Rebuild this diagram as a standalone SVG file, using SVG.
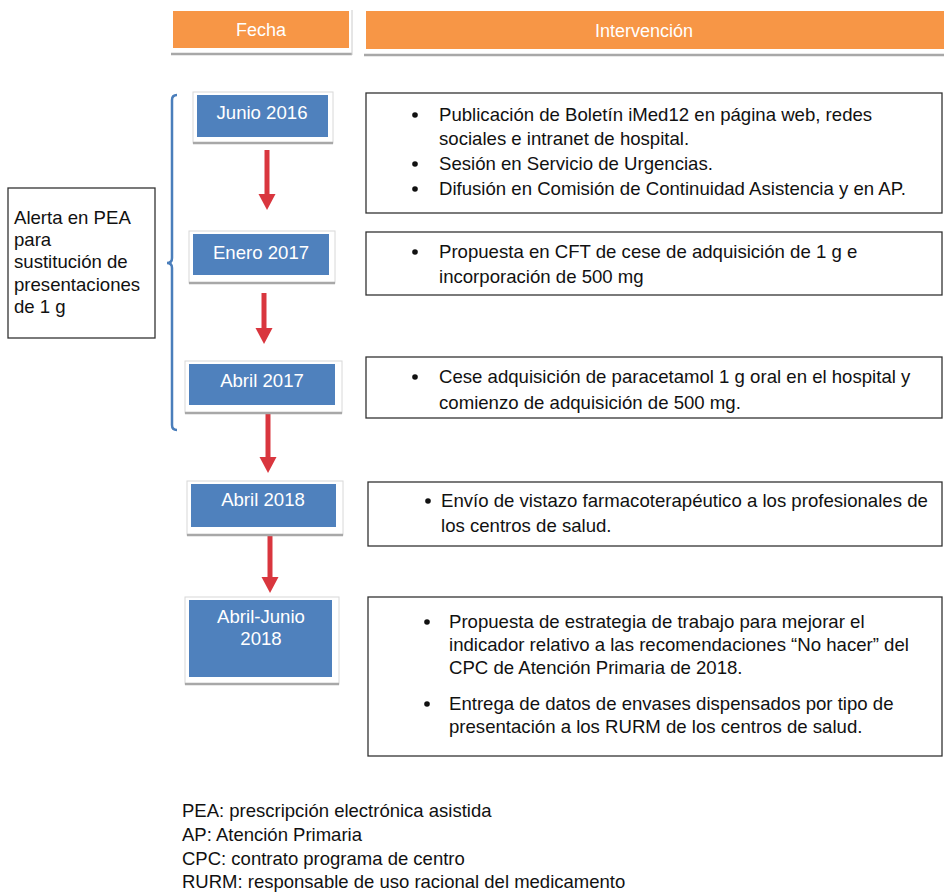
<svg xmlns="http://www.w3.org/2000/svg" width="944" height="894" viewBox="0 0 944 894">
<defs>
<style>
text{font-family:"Liberation Sans",Arial,sans-serif;font-size:18.6px;fill:#111}
.hd{fill:#fff;font-size:18px;text-anchor:middle}
.bt{fill:#fff;text-anchor:middle}
.ft{font-size:18.5px}
.blue{fill:#4f81bd}
.shd{fill:#fff;stroke:#d8d8d8;stroke-width:1}
.shl{stroke:#a8a8a8;stroke-width:2.5;fill:none}
.box{fill:#fff;stroke:#333;stroke-width:1.3}
.arr{stroke:#d9363e;stroke-width:5;fill:none}
.orange{fill:#f79646}
</style>
<marker id="ah" markerWidth="4" markerHeight="4" refX="1" refY="2" orient="auto" markerUnits="strokeWidth">
<path d="M0,0.3 L3.2,2 L0,3.7 Z" fill="#d9363e"/>
</marker>
</defs>
<rect width="944" height="894" fill="#fff"/>

<g id="header-fecha">
<line class="shl" x1="171" y1="54" x2="352" y2="54"/>
<line x1="352" y1="10" x2="352" y2="55" stroke="#ccc" stroke-width="1"/>
<rect class="orange" x="173" y="11" width="176" height="37"/>
<text class="hd" x="261" y="36">Fecha</text>
</g>
<g id="header-intervencion">
<line class="shl" x1="364" y1="55" x2="944" y2="55"/>
<rect class="orange" x="366" y="11" width="578" height="38"/>
<text class="hd" x="644" y="37">Intervención</text>
</g>

<g id="bracket">
<path d="M177,95 q-5,0 -5,5 V258 q0,5 -5,5 q5,0 5,5 V425 q0,5 5,5" fill="none" stroke="#4a7ebb" stroke-width="2.5"/>
</g>

<g id="alerta">
<rect class="box" x="8" y="188" width="147" height="150"/>
<text x="14" y="224">Alerta en PEA</text>
<text x="14" y="246">para</text>
<text x="14" y="268">sustitución de</text>
<text x="14" y="291">presentaciones</text>
<text x="14" y="313">de 1 g</text>
</g>

<g id="connectors">
<line class="arr" x1="267" y1="150" x2="267" y2="199" marker-end="url(#ah)"/>
<line class="arr" x1="264" y1="293" x2="264" y2="333" marker-end="url(#ah)"/>
<line class="arr" x1="268" y1="413" x2="268" y2="462" marker-end="url(#ah)"/>
<line class="arr" x1="270" y1="535" x2="270" y2="582" marker-end="url(#ah)"/>
</g>

<g id="date-junio-2016">
<rect class="shd" x="193" y="92" width="140" height="51"/>
<line class="shl" x1="193" y1="143" x2="333" y2="143"/>
<rect class="blue" x="197" y="95" width="131" height="42"/>
<text class="bt" x="262" y="119">Junio 2016</text>
</g>
<g id="date-enero-2017">
<rect class="shd" x="189" y="231" width="146" height="52"/>
<line class="shl" x1="189" y1="283" x2="335" y2="283"/>
<rect class="blue" x="193" y="234" width="136" height="41"/>
<text class="bt" x="261" y="259">Enero 2017</text>
</g>
<g id="date-abril-2017">
<rect class="shd" x="185" y="361" width="157" height="52"/>
<line class="shl" x1="185" y1="413" x2="342" y2="413"/>
<rect class="blue" x="189" y="364" width="146" height="41"/>
<text class="bt" x="262" y="387">Abril 2017</text>
</g>
<g id="date-abril-2018">
<rect class="shd" x="187" y="481" width="156" height="54"/>
<line class="shl" x1="187" y1="535" x2="343" y2="535"/>
<rect class="blue" x="191" y="484" width="145" height="43"/>
<text class="bt" x="263" y="506">Abril 2018</text>
</g>
<g id="date-abril-junio-2018">
<rect class="shd" x="185" y="597" width="154" height="87"/>
<line class="shl" x1="185" y1="684" x2="339" y2="684"/>
<rect class="blue" x="189" y="600" width="143" height="77"/>
<text class="bt" x="261" y="623">Abril-Junio</text>
<text class="bt" x="261" y="645">2018</text>
</g>

<g id="int-1">
<rect class="box" x="366" y="93" width="576" height="120"/>
<circle cx="415" cy="115" r="2.8" fill="#111"/>
<text x="439" y="121">Publicación de Boletín iMed12 en página web, redes</text>
<text x="439" y="145">sociales e intranet de hospital.</text>
<circle cx="415" cy="164" r="2.8" fill="#111"/>
<text x="439" y="170">Sesión en Servicio de Urgencias.</text>
<circle cx="415" cy="189" r="2.8" fill="#111"/>
<text x="439" y="195">Difusión en Comisión de Continuidad Asistencia y en AP.</text>
</g>
<g id="int-2">
<rect class="box" x="366" y="232" width="576" height="63"/>
<circle cx="415" cy="252" r="2.8" fill="#111"/>
<text x="439" y="258">Propuesta en CFT de cese de adquisición de 1 g e</text>
<text x="439" y="283">incorporación de 500 mg</text>
</g>
<g id="int-3">
<rect class="box" x="366" y="357" width="576" height="61"/>
<circle cx="415" cy="377" r="2.8" fill="#111"/>
<text x="439" y="383">Cese adquisición de paracetamol 1 g oral en el hospital y</text>
<text x="439" y="409">comienzo de adquisición de 500 mg.</text>
</g>
<g id="int-4">
<rect class="box" x="368" y="482" width="574" height="64"/>
<circle cx="428" cy="501" r="2.8" fill="#111"/>
<text x="441" y="507">Envío de vistazo farmacoterapéutico a los profesionales de</text>
<text x="441" y="532">los centros de salud.</text>
</g>
<g id="int-5">
<rect class="box" x="368" y="597" width="574" height="159"/>
<circle cx="427" cy="622" r="2.8" fill="#111"/>
<text x="449" y="628">Propuesta de estrategia de trabajo para mejorar el</text>
<text x="449" y="651">indicador relativo a las recomendaciones “No hacer” del</text>
<text x="449" y="674">CPC de Atención Primaria de 2018.</text>
<circle cx="427" cy="704" r="2.8" fill="#111"/>
<text x="449" y="710">Entrega de datos de envases dispensados por tipo de</text>
<text x="449" y="733">presentación a los RURM de los centros de salud.</text>
</g>

<g id="footer">
<text class="ft" x="182" y="817">PEA: prescripción electrónica asistida</text>
<text class="ft" x="182" y="841">AP: Atención Primaria</text>
<text class="ft" x="182" y="865">CPC: contrato programa de centro</text>
<text class="ft" x="182" y="888">RURM: responsable de uso racional del medicamento</text>
</g>
</svg>
